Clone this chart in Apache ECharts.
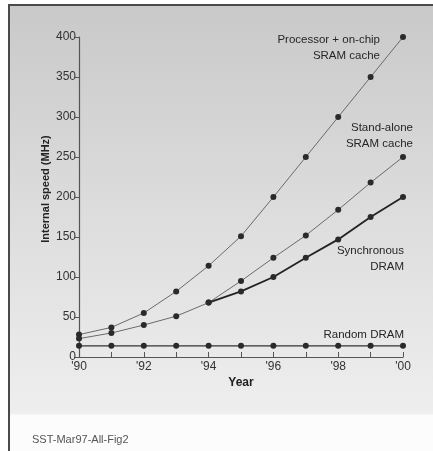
<!DOCTYPE html>
<html>
<head>
<meta charset="utf-8">
<script src="https://cdn.jsdelivr.net/npm/echarts@6/dist/echarts.min.js"></script>
<style>
  html, body { margin: 0; padding: 0; background: #ffffff; }
  #wrap { position: relative; width: 433px; height: 451px; overflow: hidden; }
  #bg { position: absolute; left: 8px; top: 4px; width: 430px; height: 460px;
        border-left: 2px solid #4a4a4a; border-top: 2px solid #4a4a4a;
        background: linear-gradient(to bottom, #c9c9c9 0px, #dcdcdc 200px, #eeeeee 405px, #f0f0f0 408px, #fcfcfc 409px, #fcfcfc 460px); }
  #chart { position: absolute; left: 0; top: 0; width: 433px; height: 451px; }
</style>
</head>
<body>
<div id="wrap"><div id="bg"></div><div id="chart"></div></div>
<script>
const years = [1990, 1991, 1992, 1993, 1994, 1995, 1996, 1997, 1998, 1999, 2000];
const processorOnChip = [28, 37, 55, 82, 114, 151, 200, 250, 300, 350, 400];
const standAloneSram = [23, 30, 40, 51, 68, 95, 124, 152, 184, 218, 250];
const synchronousDram = [null, null, null, null, 68, 82, 100, 124, 147, 175, 200];
const randomDram = [14, 14, 14, 14, 14, 14, 14, 14, 14, 14, 14];
const yTicks = [0, 50, 100, 150, 200, 250, 300, 350, 400];

const font = "'Liberation Sans', Arial, sans-serif";
const pair = arr => years.map((y, i) => [y, arr[i]]);

const chart = echarts.init(document.getElementById('chart'), null, { renderer: 'canvas' });

function lineSeries(name, arr, color, width) {
  return {
    name, type: 'line', data: pair(arr),
    symbol: 'circle', symbolSize: 6,
    itemStyle: { color: '#2a2a2a' },
    lineStyle: { color, width },
    connectNulls: false, animation: false, z: width > 1.5 ? 4 : 3
  };
}

function note(x, y, text) {
  return { type: 'text', x, y, style: { text, align: 'right', verticalAlign: 'top', font: '11.5px ' + font, fill: '#262626', lineHeight: 16 } };
}

chart.setOption({
  animation: false,
  backgroundColor: 'transparent',
  grid: { left: 79, right: 30, top: 37, bottom: 94, containLabel: false },
  xAxis: {
    type: 'value', min: 1990, max: 2000, interval: 1,
    name: 'Year', nameLocation: 'middle', nameGap: 20, nameMoveOverlap: false,
    nameTextStyle: { fontFamily: font, fontSize: 12, fontWeight: 'bold', color: '#222' },
    axisLine: { lineStyle: { color: '#555', width: 1.2 } },
    axisTick: { inside: true, length: 5, lineStyle: { color: '#555' } },
    axisLabel: {
      fontFamily: font, fontSize: 12, color: '#333', margin: 4,
      formatter: v => (v % 2 === 0 ? "'" + String(v).slice(2) : '')
    },
    splitLine: { show: false }
  },
  yAxis: {
    type: 'value', min: 0, max: 400, interval: 50,
    name: 'Internal speed (MHz)', nameLocation: 'middle', nameGap: 28, nameRotate: 90, nameMoveOverlap: false,
    nameTextStyle: { fontFamily: font, fontSize: 11, fontWeight: 'bold', color: '#222', padding: [0, 0, 0, 16] },
    axisLine: { show: true, lineStyle: { color: '#555', width: 1.2 } },
    axisTick: { show: true, length: 4, lineStyle: { color: '#555' } },
    axisLabel: {
      fontFamily: font, fontSize: 12, color: '#333', margin: 3,
      formatter: v => (yTicks.includes(v) ? String(v) : '')
    },
    splitLine: { show: false }
  },
  series: [
    lineSeries('Processor + on-chip SRAM cache', processorOnChip, '#6a6a6a', 1),
    lineSeries('Stand-alone SRAM cache', standAloneSram, '#6a6a6a', 1),
    lineSeries('Synchronous DRAM', synchronousDram, '#222', 1.8),
    lineSeries('Random DRAM', randomDram, '#333', 1.2)
  ],
  graphic: [
    note(380, 32, 'Processor + on-chip\nSRAM cache'),
    note(413, 120, 'Stand-alone\nSRAM cache'),
    note(404, 243, 'Synchronous\nDRAM'),
    note(404, 327, 'Random DRAM'),
    { type: 'text', x: 32, y: 434, style: { text: 'SST-Mar97-All-Fig2', font: '11px ' + font, fill: '#555' } }
  ]
});
</script>
</body>
</html>
